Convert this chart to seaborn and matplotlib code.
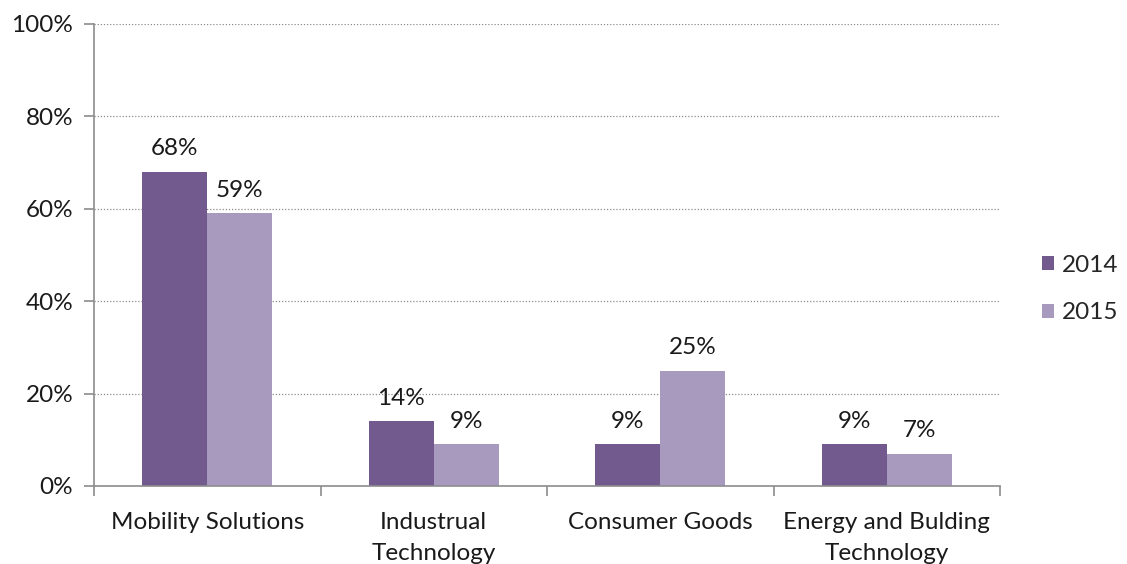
import matplotlib
matplotlib.use("Agg")
import matplotlib.pyplot as plt
from matplotlib.ticker import FixedLocator, PercentFormatter
from matplotlib.patches import Patch
import seaborn as sns
import pandas as pd

categories = ["Mobility Solutions", "Industrual\nTechnology", "Consumer Goods", "Energy and Bulding\nTechnology"]
share_2014 = [68, 14, 9, 9]
share_2015 = [59, 9, 25, 7]
years = ["2014", "2015"]
colors = ["#72598E", "#A899BE"]

df = pd.DataFrame({
    "segment": categories * 2,
    "year": [years[0]] * 4 + [years[1]] * 4,
    "share": share_2014 + share_2015,
})

sns.set_theme(style="white")
plt.rcParams["font.family"] = ["Lato", "DejaVu Sans"]
FS = 17.5

fig = plt.figure(figsize=(11.27, 5.64), dpi=100)
ax = fig.add_axes([94 / 1127, 78 / 564, 906 / 1127, 462 / 564])

sns.barplot(data=df, x="segment", y="share", hue="year", order=categories,
            hue_order=years, palette=colors, width=0.574, saturation=1,
            ax=ax, legend=False, linewidth=0)

ax.set_xlim(-0.5, len(categories) - 0.5)
ax.set_ylim(0, 100)
ax.set_yticks([0, 20, 40, 60, 80, 100])
ax.yaxis.set_major_formatter(PercentFormatter(decimals=0))
ax.set_xlabel("")
ax.set_ylabel("")

# dotted horizontal gridlines
for y in [20, 40, 60, 80, 100]:
    ax.axhline(y, color="#8C8C8C", linestyle=(0, (1, 1.5)), linewidth=0.9, zorder=0)

# value labels
for cont in ax.containers:
    ax.bar_label(cont, labels=[f"{int(v)}%" for v in cont.datavalues],
                 padding=9, fontsize=FS, color="#1a1a1a")

for side in ["top", "right"]:
    ax.spines[side].set_visible(False)
for side in ["left", "bottom"]:
    ax.spines[side].set_color("#8C8C8C")
    ax.spines[side].set_linewidth(1.2)

ax.tick_params(axis="y", which="both", left=True, length=7, width=1.2,
               color="#8C8C8C", labelsize=FS, labelcolor="#1a1a1a", pad=8)
ax.tick_params(axis="x", which="major", bottom=False, labelsize=FS,
               labelcolor="#1a1a1a", pad=13)
ax.xaxis.set_minor_locator(FixedLocator([-0.5, 0.5, 1.5, 2.5, 3.5]))
ax.tick_params(axis="x", which="minor", bottom=True, length=7, width=1.2,
               color="#8C8C8C")
for lbl in ax.get_xticklabels():
    lbl.set_linespacing(1.55)
    lbl.set_verticalalignment("top")

handles = [Patch(facecolor=c, edgecolor="none", label=y) for c, y in zip(colors, years)]
fig.legend(handles=handles, loc="center left", bbox_to_anchor=(1030 / 1127, 1 - 289 / 564),
           frameon=False, fontsize=FS, handlelength=0.5, handleheight=0.5,
           handletextpad=0.3, labelspacing=1.1, borderpad=0)

fig.savefig("out.png", dpi=100)
